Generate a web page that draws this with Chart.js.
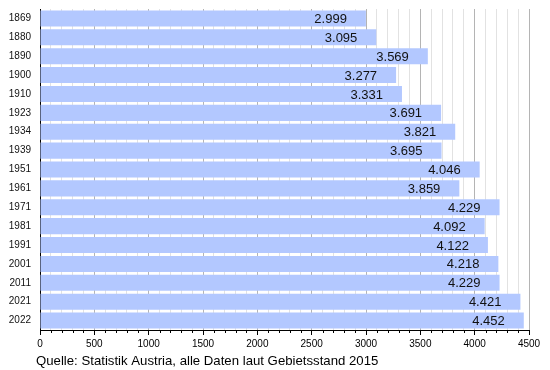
<!DOCTYPE html>
<html>
<head>
<meta charset="utf-8">
<script src="https://cdn.jsdelivr.net/npm/chart.js@4/dist/chart.umd.min.js"></script>
<style>
  html, body { margin: 0; padding: 0; background: #fff; }
  #wrap { width: 550px; height: 370px; }
</style>
</head>
<body>
<div id="wrap"><canvas id="popChart" width="550" height="370"></canvas></div>
<script>
// Einwohner (in Tausend), Gebietsstand 2015
const jahre = ['1869', '1880', '1890', '1900', '1910', '1923', '1934', '1939', '1951',
  '1961', '1971', '1981', '1991', '2001', '2011', '2021', '2022'];
const einwohner = [2999, 3095, 3569, 3277, 3331, 3691, 3821, 3695, 4046,
  3859, 4229, 4092, 4122, 4218, 4229, 4421, 4452];
const xMax = 4500;
const quelle = 'Quelle: Statistik Austria, alle Daten laut Gebietsstand 2015';

function fmt(v) {
  // 2999 -> "2.999"
  const s = String(v);
  return s.length > 3 ? s.slice(0, -3) + '.' + s.slice(-3) : s;
}

// Werte am Balkenende
const valueLabels = {
  id: 'valueLabels',
  afterDatasetsDraw(chart) {
    const ctx = chart.ctx;
    const meta = chart.getDatasetMeta(0);
    ctx.save();
    ctx.font = '13px "Liberation Sans", Arial, sans-serif';
    ctx.fillStyle = '#111';
    ctx.textAlign = 'right';
    ctx.textBaseline = 'middle';
    meta.data.forEach((bar, i) => {
      ctx.fillText(fmt(einwohner[i]), bar.x - 19, bar.y + 1);
    });
    ctx.restore();
  }
};

// kleine Teilstriche + Quellenangabe
const extras = {
  id: 'extras',
  afterDraw(chart) {
    const ctx = chart.ctx;
    const x = chart.scales.x;
    const y0 = chart.chartArea.bottom;
    ctx.save();
    ctx.strokeStyle = '#000';
    ctx.lineWidth = 1;
    ctx.beginPath();
    for (let v = 100; v < xMax; v += 100) {
      if (v % 500 === 0) continue;
      const px = Math.round(x.getPixelForValue(v)) + 0.5;
      ctx.moveTo(px, y0);
      ctx.lineTo(px, y0 + 3);
    }
    ctx.stroke();
    ctx.font = '13.2px "Liberation Sans", Arial, sans-serif';
    ctx.fillStyle = '#000';
    ctx.textAlign = 'left';
    ctx.textBaseline = 'middle';
    ctx.fillText(quelle, 36, 361);
    ctx.restore();
  }
};

new Chart(document.getElementById('popChart'), {
  type: 'bar',
  data: {
    labels: jahre,
    datasets: [{
      data: einwohner,
      backgroundColor: '#b3c8ff',
      borderWidth: 0,
      barPercentage: 0.85,
      categoryPercentage: 1.0,
    }],
  },
  options: {
    indexAxis: 'y',
    responsive: false,
    animation: false,
    layout: { padding: { top: 9, right: 21, left: 0, bottom: 0 } },
    plugins: { legend: { display: false }, tooltip: { enabled: false } },
    scales: {
      x: {
        min: 0,
        max: xMax,
        afterFit: (scale) => { scale.height = 40; },
        ticks: {
          stepSize: 100,
          autoSkip: false,
          maxRotation: 0,
          padding: 3,
          color: '#000',
          font: { family: '"Liberation Sans", Arial, sans-serif', size: 10 },
          callback: (v) => (v % 500 === 0 ? String(v) : ''),
        },
        grid: {
          color: (c) => (c.tick && c.tick.value % 500 === 0 ? '#b4b4b4' : '#e2e2e2'),
          tickColor: (c) => (c.tick && c.tick.value % 500 === 0 ? '#000' : 'rgba(0,0,0,0)'),
          tickLength: 5,
          lineWidth: 1,
        },
        border: { color: '#000', width: 1 },
      },
      y: {
        afterFit: (scale) => { scale.width = 40; },
        ticks: {
          padding: 1,
          color: '#111',
          font: { family: '"Liberation Sans", Arial, sans-serif', size: 10 },
        },
        grid: { display: false },
        border: { color: '#000', width: 1 },
      },
    },
  },
  plugins: [valueLabels, extras],
});
</script>
</body>
</html>
